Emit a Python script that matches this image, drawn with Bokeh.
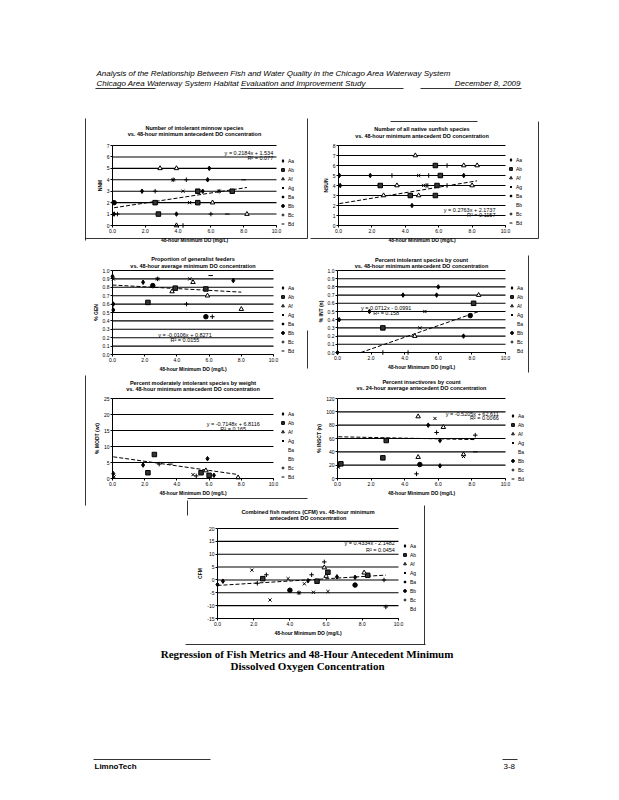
from bokeh.plotting import figure
from bokeh.models import (Range1d, Label, Legend, LegendItem, LinearAxis,
                          FixedTicker, PrintfTickFormatter)
from bokeh.embed import file_html
from bokeh.resources import INLINE

# ------------------------------------------------------------------ data
SITES = ["Aa", "Ab", "Af", "Ag", "Ba", "Bb", "Bc", "Bd"]
X_TICKS = [0, 2, 4, 6, 8, 10]
X_LIMITS = (0, 10)

# Chart 1: number of intolerant minnow species
nnm_do = [0.1, 0.3, 2.8, 3.9, 6.0, 7.0, 8.2,
          0.1, 2.6, 4.7, 5.2, 6.1,
          1.8, 2.6, 4.3, 5.2, 5.5, 6.5, 7.3,
          3.7, 4.5, 5.8, 8.0,
          2.9, 3.9, 5.9,
          2.2, 3.9, 4.3]
nnm_val = [1, 1, 1, 1, 1, 1, 1,
           2, 2, 2, 2, 2,
           3, 3, 3, 3, 3, 3, 3,
           4, 4, 4, 4,
           5, 5, 5,
           0, 0, 0]
nnm_site = ["Aa", "Bc", "Ab", "Aa", "Bc", "Bd", "Af",
            "Bb", "Ab", "Ag", "Ab", "Af",
            "Aa", "Bc", "Ag", "Ab", "Aa", "Ba", "Ab",
            "Ba", "Bc", "Aa", "Bd",
            "Af", "Af", "Aa",
            "Bd", "Af", "Bc"]
nnm_fit = (0.2184, 1.534, "0.077")
nnm_yticks = [0, 1, 2, 3, 4, 5, 6, 7]

# Chart 2: number of native sunfish species
nsun_do = [4.6,
           5.8, 6.5, 7.5, 8.3,
           0.05, 1.9, 3.2, 4.8, 5.4, 6.1, 7.5,
           0.1, 2.5, 3.5, 5.1, 5.3, 5.9, 6.5, 8.0,
           2.7, 4.3, 4.8, 5.2, 5.8,
           4.4]
nsun_val = [7,
            6, 6, 6, 6,
            5, 5, 5, 5, 5, 5, 5,
            4, 4, 4, 4, 4, 4, 4, 4,
            3, 3, 3, 3, 3,
            2]
nsun_site = ["Af",
             "Ab", "Bc", "Af", "Af",
             "Aa", "Aa", "Bc", "Ag", "Bc", "Ab", "Aa",
             "Aa", "Ab", "Af", "Ag", "Ba", "Ab", "Bc", "Af",
             "Af", "Ab", "Af", "Bd", "Ab",
             "Aa"]
nsun_fit = (0.2763, 2.1737, "0.1157")
nsun_yticks = [0, 1, 2, 3, 4, 5, 6, 7, 8]

# Chart 3: proportion of generalist feeders
gen_do = [0.0, 0.05, 1.9, 2.8, 4.8, 5.0, 7.5, 6.1, 2.5, 3.9,
          5.8, 3.7, 5.9, 2.2, 4.6, 0.05, 8.0, 5.8, 6.2, 0.05]
gen_val = [0.93, 0.90, 0.86, 0.90, 0.90, 0.86, 0.88, 0.94, 0.82, 0.79,
           0.78, 0.75, 0.70, 0.62, 0.60, 0.53, 0.54, 0.45, 0.45, 0.60]
gen_site = ["Aa", "Ag", "Aa", "Ba", "Ag", "Af", "Aa", "Bd", "Bb", "Ab",
            "Ab", "Af", "Af", "Ab", "Bc", "Aa", "Af", "Bb", "Bc", "Aa"]
gen_fit = (-0.0106, 0.8271, "0.0155")
frac_yticks = [0.0, 0.1, 0.2, 0.3, 0.4, 0.5, 0.6, 0.7, 0.8, 0.9, 1.0]

# Chart 4: percent intolerant species by count
int_do = [6.0, 3.9, 5.9, 8.4, 1.9, 5.2, 0.1, 2.7, 4.9, 4.6, 7.5,
          0.0, 2.7, 4.2, 8.1, 7.9]
int_val = [0.8, 0.7, 0.7, 0.7, 0.5, 0.5, 0.4, 0.3, 0.3, 0.2, 0.2,
           0.0, 0.0, 0.0, 0.6, 0.45]
int_site = ["Aa", "Aa", "Aa", "Af", "Aa", "Ag", "Aa", "Ab", "Ag", "Af", "Aa",
            "Aa", "Bc", "Bc", "Ab", "Bb"]
int_fit = (0.0712, -0.0991, "0.158")

# Chart 5: percent moderately intolerant species by weight
mod_do = [0.05, 0.1, 1.9, 2.2, 2.6, 2.9, 5.0, 5.5, 5.9, 5.8, 6.0, 6.3,
          7.8, 5.2, 3.6]
mod_val = [1.5, 0.5, 4.2, 1.8, 7.5, 4.5, 1.2, 1.8, 6.2, 2.5, 1.0, 1.0,
           0.3, 0.8, 4.5]
mod_site = ["Aa", "Ag", "Aa", "Ab", "Ab", "Bc", "Ag", "Ab", "Aa", "Af", "Ab",
            "Aa", "Af", "Bc", "Bd"]
mod_fit = (-0.7148, 6.8116, "0.165")
mod_yticks = [0, 5, 10, 15, 20, 25]

# Chart 6: percent insectivores by count
ins_do = [0.05, 0.1, 0.2, 2.9, 2.7, 4.8, 4.8, 4.9, 4.7, 5.4, 5.8, 5.9,
          6.1, 6.3, 6.1, 7.5, 7.5, 8.2, 8.2]
ins_val = [17, 20, 22, 57, 31, 93, 32, 21, 7, 80, 90, 69,
           57, 77, 19, 36, 33, 65, 40]
ins_site = ["Ag", "Aa", "Ab", "Ab", "Ab", "Af", "Af", "Bb", "Bc", "Aa", "Ag",
            "Bc", "Aa", "Af", "Aa", "Af", "Ag", "Bc", "Bd"]
ins_fit = (-0.5205, 62.611, "0.0066")
ins_yticks = [0, 20, 40, 60, 80, 100, 120]

# Chart 7: combined fish metrics (CFM)
cfm_do = [0.0, 0.3, 1.9, 2.2, 2.5, 2.7, 2.9, 3.9, 4.0, 4.5, 4.8, 5.0, 5.2,
          5.3, 5.5, 5.9, 5.9, 6.0, 6.1, 6.1, 6.6, 7.6, 7.6, 8.1, 8.3, 9.2, 9.3]
cfm_val = [-1.8, -0.5, 3.8, -1.3, 0.5, 2.0, -7.8, 0.5, -4.0, -5.0, -1.5,
           -0.3, 2.0, -4.8, -0.5, 7.0, 4.8, 1.5, 3.0, -4.5, 1.2, 1.0, -2.0,
           2.8, 1.8, 0.0, -10.5]
cfm_site = ["Aa", "Aa", "Ag", "Bc", "Ab", "Bc", "Ag", "Ag", "Bb", "Ba", "Ag",
            "Aa", "Bc", "Ag", "Ab", "Bc", "Af", "Af", "Ab", "Ag", "Aa", "Aa",
            "Bb", "Af", "Ab", "Bc", "Bc"]
cfm_fit = (0.4334, -2.1482, "0.0454")
cfm_yticks = [-15, -10, -5, 0, 5, 10, 15, 20]

# ------------------------------------------------------------------ page layout (pixels)
PAGE_L, PAGE_R, PAGE_T, PAGE_B = 0, 615, 0, 796
FONT = "Liberation Sans"
MARKERS = {"Aa": "diamond", "Ab": "square", "Af": "triangle", "Ag": "x",
           "Ba": "asterisk", "Bb": "circle", "Bc": "cross", "Bd": "dash"}
FILLS = {"Aa": "black", "Ab": "#333333", "Af": "white", "Ag": "black",
         "Ba": "black", "Bb": "black", "Bc": "black", "Bd": "black"}

CHARTS = [
    dict(key="c1", xs=nnm_do, ys=nnm_val, sites=nnm_site, fit=nnm_fit,
         ylim=(0, 7), yticks=nnm_yticks, yfmt="%d", ylab="NNM",
         box=(112, 276, 145, 225), title_y=(127, 133),
         titles=("Number of intolerant minnow species",
                 "vs. 48-hour minimum antecedent DO concentration"),
         eq=(9.8, 6.33, 5.95, "right"), legend=(279, 157)),
    dict(key="c2", xs=nsun_do, ys=nsun_val, sites=nsun_site, fit=nsun_fit,
         ylim=(0, 8), yticks=nsun_yticks, yfmt="%d", ylab="NSUN",
         box=(338, 505, 145, 225), title_y=(128, 135),
         titles=("Number of all native sunfish species",
                 "vs. 48-hour minimum antecedent DO concentration"),
         eq=(9.4, 1.57, 1.07, "right"), legend=(507, 156)),
    dict(key="c3", xs=gen_do, ys=gen_val, sites=gen_site, fit=gen_fit,
         ylim=(0, 1), yticks=frac_yticks, yfmt="%.1f", ylab="% GEN",
         box=(112, 273, 270, 354), title_y=(258, 265),
         titles=("Proportion of generalist feeders",
                 "vs. 48-hour average minimum DO concentration"),
         eq=(4.5, 0.23, 0.17, "center"), legend=(279, 284)),
    dict(key="c4", xs=int_do, ys=int_val, sites=int_site, fit=int_fit,
         ylim=(0, 1), yticks=frac_yticks, yfmt="%.1f", ylab="% INT (n)",
         box=(337, 505, 270, 352), title_y=(259, 265),
         titles=("Percent intolerant species by count",
                 "vs. 48-hour minimum antecedent DO concentration"),
         eq=(2.9, 0.54, 0.48, "center"), legend=(508, 284)),
    dict(key="c5", xs=mod_do, ys=mod_val, sites=mod_site, fit=mod_fit,
         ylim=(0, 25), yticks=mod_yticks, yfmt="%d", ylab="% MODT (wt)",
         box=(112, 273, 398, 478), title_y=(382, 388),
         titles=("Percent moderately intolerant species by weight",
                 "vs. 48-hour minimum antecedent DO concentration"),
         eq=(7.5, 17.0, 15.6, "center"), legend=(279, 410)),
    dict(key="c6", xs=ins_do, ys=ins_val, sites=ins_site, fit=ins_fit,
         ylim=(0, 120), yticks=ins_yticks, yfmt="%d", ylab="% INSCT (n)",
         box=(337, 505, 398, 478), title_y=(381, 387),
         titles=("Percent insectivores by count",
                 "vs. 24-hour average antecedent DO concentration"),
         eq=(9.6, 96.5, 90.5, "right"), legend=(509, 412)),
    dict(key="c7", xs=cfm_do, ys=cfm_val, sites=cfm_site, fit=cfm_fit,
         ylim=(-15, 20), yticks=cfm_yticks, yfmt="%d", ylab="CFM",
         box=(217, 398, 528, 618), title_y=(511, 517),
         titles=("Combined fish metrics (CFM) vs. 48-hour minimum",
                 "antecedent DO concentration"),
         eq=(9.8, 14.2, 11.8, "right"), legend=(401, 542)),
]

# scanned chart-border fragments (page pixels)
BORDER_LINES = [
    (85, 118, 85, 240), (85, 238, 307, 238), (307, 118, 307, 238),
    (538, 121, 538, 238), (310, 238, 538, 238), (390, 121, 477, 121),
    (307, 330, 307, 368), (528, 255, 528, 372),
    (85, 375, 85, 505), (187, 498, 307, 498),
    (187, 500, 187, 515), (185, 644, 425, 644), (424, 505, 424, 644),
]

p = figure(width=PAGE_R - PAGE_L, height=PAGE_B - PAGE_T,
           x_range=Range1d(PAGE_L, PAGE_R), y_range=Range1d(PAGE_B, PAGE_T),
           output_backend="svg", toolbar_location=None, title=None,
           x_axis_location=None, y_axis_location=None,
           min_border_left=0, min_border_right=0,
           min_border_top=0, min_border_bottom=0)
p.grid.visible = False
p.outline_line_color = None
p.background_fill_color = "white"
p.border_fill_color = "white"


def eq_text(slope, icpt):
    sign = "+" if icpt >= 0 else "-"
    return f"y = {slope:g}x {sign} {abs(icpt):g}"


def style_axis(ax):
    ax.axis_line_color = "black"
    ax.major_tick_line_color = "black"
    ax.minor_tick_line_color = None
    ax.major_tick_in = 0
    ax.major_tick_out = 2
    ax.major_label_standoff = 1
    ax.major_label_text_font = FONT
    ax.major_label_text_font_size = "5px"
    ax.major_label_text_color = "black"
    ax.axis_label_standoff = 1
    ax.axis_label_text_font = FONT
    ax.axis_label_text_font_size = "5px"
    ax.axis_label_text_font_style = "bold"
    ax.axis_label_text_color = "black"


xr_extra, yr_extra = {}, {}
for c in CHARTS:
    L, R, T, B = c["box"]
    x0, x1 = X_LIMITS
    y0, y1 = c["ylim"]
    sx = (R - L) / (x1 - x0)
    sy = (B - T) / (y1 - y0)
    xr_extra[c["key"]] = Range1d(x0 - (L - PAGE_L) / sx, x1 + (PAGE_R - R) / sx)
    yr_extra[c["key"]] = Range1d(y0 - (PAGE_B - B) / sy, y1 + (T - PAGE_T) / sy)
p.extra_x_ranges = xr_extra
p.extra_y_ranges = yr_extra

for c in CHARTS:
    key = c["key"]
    kw = dict(x_range_name=key, y_range_name=key)
    L, R, T, B = c["box"]
    x0, x1 = X_LIMITS
    y0, y1 = c["ylim"]
    ticks = c["yticks"]

    # horizontal major gridlines
    p.segment(x0=[x0] * len(ticks), y0=ticks, x1=[x1] * len(ticks), y1=ticks,
              line_color="black", line_width=1.1, **kw)

    xa = LinearAxis(fixed_location=y0, bounds=X_LIMITS,
                    ticker=FixedTicker(ticks=X_TICKS),
                    formatter=PrintfTickFormatter(format="%.1f"),
                    axis_label="48-hour Minimum DO (mg/L)", **kw)
    style_axis(xa)
    p.add_layout(xa, "below")
    ya = LinearAxis(fixed_location=x0, bounds=c["ylim"],
                    ticker=FixedTicker(ticks=ticks),
                    formatter=PrintfTickFormatter(format=c["yfmt"]),
                    axis_label=c["ylab"], **kw)
    style_axis(ya)
    p.add_layout(ya, "left")

    # trend line clipped to the plot range
    slope, icpt, r2 = c["fit"]
    xa_, xb_ = min(c["xs"]), max(c["xs"])

    def clip_x(xv):
        yv = slope * xv + icpt
        if yv < y0:
            xv = (y0 - icpt) / slope
        elif yv > y1:
            xv = (y1 - icpt) / slope
        return xv

    xa_, xb_ = clip_x(xa_), clip_x(xb_)
    p.line([xa_, xb_], [slope * xa_ + icpt, slope * xb_ + icpt],
           line_color="black", line_width=1, line_dash="4 2", **kw)

    items = []
    for s in SITES:
        sxs = [x for x, ss in zip(c["xs"], c["sites"]) if ss == s]
        sys_ = [y for y, ss in zip(c["ys"], c["sites"]) if ss == s]
        r = p.scatter(sxs, sys_, marker=MARKERS[s], size=4.5, line_color="black",
                      fill_color=FILLS[s], line_width=1, **kw)
        items.append(LegendItem(label=s, renderers=[r]))
    lx, ltop = c["legend"]
    lg = Legend(items=items, location=(lx - PAGE_L, PAGE_B - (ltop + 70)),
                orientation="vertical", margin=0, padding=0, spacing=2,
                label_height=7, glyph_height=7, glyph_width=7, label_standoff=2,
                label_text_font=FONT, label_text_font_size="5px",
                label_text_color="black",
                border_line_color=None, background_fill_alpha=0)
    p.add_layout(lg)

    ex, ey1, ey2, ealign = c["eq"]
    p.add_layout(Label(x=ex, y=ey1, text=eq_text(slope, icpt), text_align=ealign,
                       text_baseline="middle", text_font=FONT,
                       text_font_size="5.5px", text_color="black", **kw))
    p.add_layout(Label(x=ex, y=ey2, text=f"R² = {r2}", text_align=ealign,
                       text_baseline="middle", text_font=FONT,
                       text_font_size="5.5px", text_color="black", **kw))

    # chart titles (page coordinates)
    for t, ty in zip(c["titles"], c["title_y"]):
        p.add_layout(Label(x=(L + R) / 2, y=ty, text=t, text_align="center",
                           text_baseline="middle", text_font=FONT,
                           text_font_size="5.5px", text_font_style="bold",
                           text_color="black"))

# chart border fragments
p.segment(x0=[b[0] for b in BORDER_LINES], y0=[b[1] for b in BORDER_LINES],
          x1=[b[2] for b in BORDER_LINES], y1=[b[3] for b in BORDER_LINES],
          line_color="black", line_width=0.8)

# header
p.add_layout(Label(x=96, y=73, text="Analysis of the Relationship Between Fish and Water "
                   "Quality in the Chicago Area Waterway System",
                   text_font=FONT, text_font_style="italic", text_font_size="8px",
                   text_baseline="middle", text_color="black"))
p.add_layout(Label(x=96, y=83, text="Chicago Area Waterway System Habitat Evaluation "
                   "and Improvement Study",
                   text_font=FONT, text_font_style="italic", text_font_size="8px",
                   text_baseline="middle", text_color="black"))
p.add_layout(Label(x=520, y=83, text="December 8, 2009", text_align="right",
                   text_font=FONT, text_font_style="italic", text_font_size="8px",
                   text_baseline="middle", text_color="black"))
p.segment(x0=[95, 240, 420], y0=[88, 88, 88], x1=[155, 403, 521], y1=[88, 88, 88],
          line_color="black", line_width=0.8)

# caption
p.add_layout(Label(x=307, y=653, text="Regression of Fish Metrics and 48-Hour "
                   "Antecedent Minimum", text_align="center", text_baseline="middle",
                   text_font="Liberation Serif", text_font_style="bold",
                   text_font_size="11px", text_color="black"))
p.add_layout(Label(x=307, y=665, text="Dissolved Oxygen Concentration",
                   text_align="center", text_baseline="middle",
                   text_font="Liberation Serif", text_font_style="bold",
                   text_font_size="11px", text_color="black"))

# footer
p.segment(x0=[93, 502], y0=[759, 759], x1=[210, 517], y1=[759, 759],
          line_color="black", line_width=0.8)
p.add_layout(Label(x=94, y=766, text="LimnoTech", text_baseline="middle",
                   text_font=FONT, text_font_style="bold", text_font_size="8px",
                   text_color="black"))
p.add_layout(Label(x=503, y=766, text="3-8", text_baseline="middle",
                   text_font=FONT, text_font_size="8px", text_color="black"))

with open("out.html", "w") as fh:
    fh.write(file_html(p, INLINE))
